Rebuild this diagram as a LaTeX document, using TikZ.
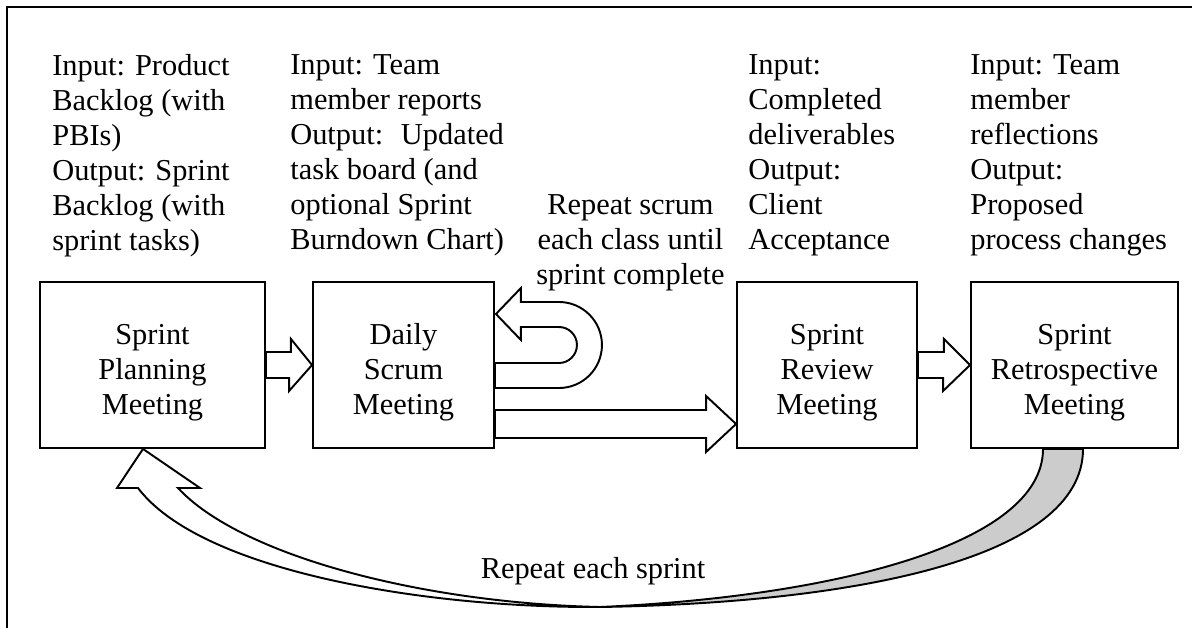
\documentclass[tikz,border=0pt]{standalone}
\usepackage{fontspec}
\setmainfont{Liberation Serif}
\usetikzlibrary{calc}

\begin{document}
\begin{tikzpicture}[
		x=0.02cm, y=0.02cm,
		every node/.style={font=\fontsize{17.3}{19.9}\selectfont},
		box/.style={draw, line width=1.1pt, align=center, minimum height=3.32cm, text height=2.1cm},
		note/.style={align=left, anchor=north west, inner sep=0pt},
		blk/.style={draw, line width=1.1pt, fill=white, line join=miter}]
		\useasboundingbox (0,0) rectangle (1192,-628);
		\draw[line width=1pt] (7,-628) -- (7,-7) -- (1192,-7);

		\node[box, minimum width=4.5cm]  (plan)   at (152.5,-365)  {Sprint\\Planning\\Meeting};
		\node[box, minimum width=3.62cm] (daily)  at (403.5,-365)  {Daily\\Scrum\\Meeting};
		\node[box, minimum width=3.6cm]  (review) at (827,-365)    {Sprint\\Review\\Meeting};
		\node[box, minimum width=4.14cm] (retro)  at (1074.5,-365) {Sprint\\Retrospective\\Meeting};

		\node[note] (planio)   at (52,-54)  {Input: Product\\Backlog (with\\PBIs)\\Output: Sprint\\Backlog (with\\sprint tasks)};
		\node[note] (dailyio)  at (290,-54) {Input: Team\\member reports\\Output:~ Updated\\task board (and\\optional Sprint\\Burndown Chart)};
		\node[note] (reviewio) at (748,-54) {Input:\\Completed\\deliverables\\Output:\\Client\\Acceptance};
		\node[note] (retroio)  at (970,-54) {Input: Team\\member\\reflections\\Output:\\Proposed\\process changes};
		\node[align=center, anchor=north, inner sep=0pt] (scrumrep) at (630.5,-194) {Repeat scrum\\each class until\\sprint complete};
		\node[anchor=base, inner sep=0pt] (sprintrep) at (593,-578) {Repeat each sprint};

		% block arrows between the meetings
		\draw[blk] ($(plan.east)+(0,13)$) -- ++(25,0) -- ++(0,13) -- (daily.west)
			-- ($(daily.west)+(-23,-26)$) -- ++(0,13) -- ($(plan.east)+(0,-13)$) -- cycle;
		\draw[blk] ($(review.east)+(0,13)$) -- ++(26,0) -- ++(0,13) -- (retro.west)
			-- ($(retro.west)+(-27,-26)$) -- ++(0,13) -- ($(review.east)+(0,-13)$) -- cycle;
		\draw[blk] ($(daily.east)+(0,-45)$) -- ($(review.west)+(-30,-45)$) -- ++(0,14) -- ($(review.west)+(0,-59)$)
			-- ($(review.west)+(-30,-87)$) -- ++(0,14) -- ($(daily.east)+(0,-73)$) -- cycle;

		% u-turn back into the daily scrum
		\draw[blk] ($(daily.east)+(0,-23)$) -- ++(64,0) arc[start angle=-90, end angle=90, radius=43]
			-- ++(-38,0) -- ++(0,14) -- ($(daily.east)+(1,51)$) -- ++(25,-26) -- ++(0,13) -- ++(38,0)
			arc[start angle=90, end angle=-90, radius=18] -- ($(daily.east)+(0,2)$) -- cycle;

		% long curved arrow back to planning
		\coordinate (low) at (600,-607);
		\draw[blk, fill=black!20] (low) .. controls (830,-597) and (1043,-545) .. ($(retro.south)+(-31.5,0)$)
			-- ($(retro.south)+(8.5,0)$) .. controls (1083,-560) and (850,-603) .. (low) -- cycle;
		\draw[blk] ($(plan.south)+(-9.5,0)$) -- (200,-488) -- (178,-488) .. controls (240,-555) and (420,-603) .. (low)
			.. controls (420,-608) and (200,-570) .. (138,-488) -- (117,-488) -- cycle;
\end{tikzpicture}
\end{document}
